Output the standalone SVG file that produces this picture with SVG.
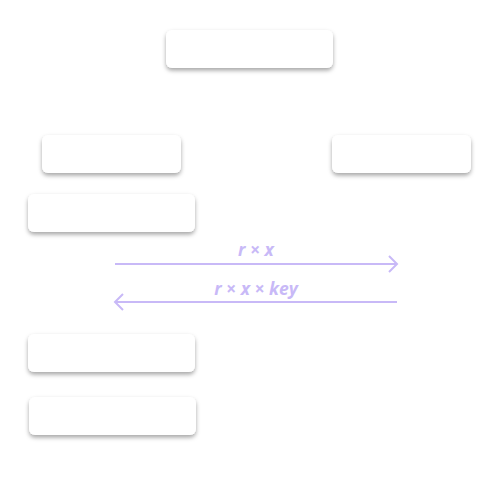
<svg xmlns="http://www.w3.org/2000/svg" width="500" height="500" viewBox="0 0 500 500">
<defs>
<filter id="sh" x="-20%" y="-30%" width="140%" height="180%">
<feDropShadow dx="0" dy="2.5" stdDeviation="2" flood-color="#000" flood-opacity="0.35"/>
</filter>
<marker id="ah" markerWidth="12" markerHeight="20" refX="10" refY="9" orient="auto-start-reverse" markerUnits="userSpaceOnUse">
<path d="M2,1 L10,9 L2,17" fill="none" stroke="#c8b9f7" stroke-width="2"/>
</marker>
<style>
.box{fill:#fff;filter:url(#sh)}
.ln{stroke:#c8b9f7;stroke-width:2;fill:none}
.lb{font-family:"Open Sans","Noto Sans",sans-serif;font-weight:bold;font-style:italic;font-size:17.5px;fill:#c8b9f7;text-anchor:middle}
</style>
</defs>
<rect width="500" height="500" fill="#fff"/>
<g id="n1"><rect class="box" x="166" y="30" width="167" height="38" rx="6"/></g>
<g id="n2"><rect class="box" x="42" y="135" width="139" height="38" rx="6"/></g>
<g id="n3"><rect class="box" x="332" y="135" width="139" height="38" rx="6"/></g>
<g id="n4"><rect class="box" x="28" y="194" width="167" height="38" rx="6"/></g>
<g id="n5"><rect class="box" x="28" y="334" width="167" height="38" rx="6"/></g>
<g id="n6"><rect class="box" x="29" y="397" width="167" height="38" rx="6"/></g>
<g id="edges">
<line class="ln" x1="115" y1="264" x2="397" y2="264" marker-end="url(#ah)"/>
<text class="lb" x="256" y="256">r × x</text>
<line class="ln" x1="397" y1="302" x2="115" y2="302" marker-end="url(#ah)"/>
<text class="lb" x="256" y="295">r × x × key</text>
</g>
</svg>
